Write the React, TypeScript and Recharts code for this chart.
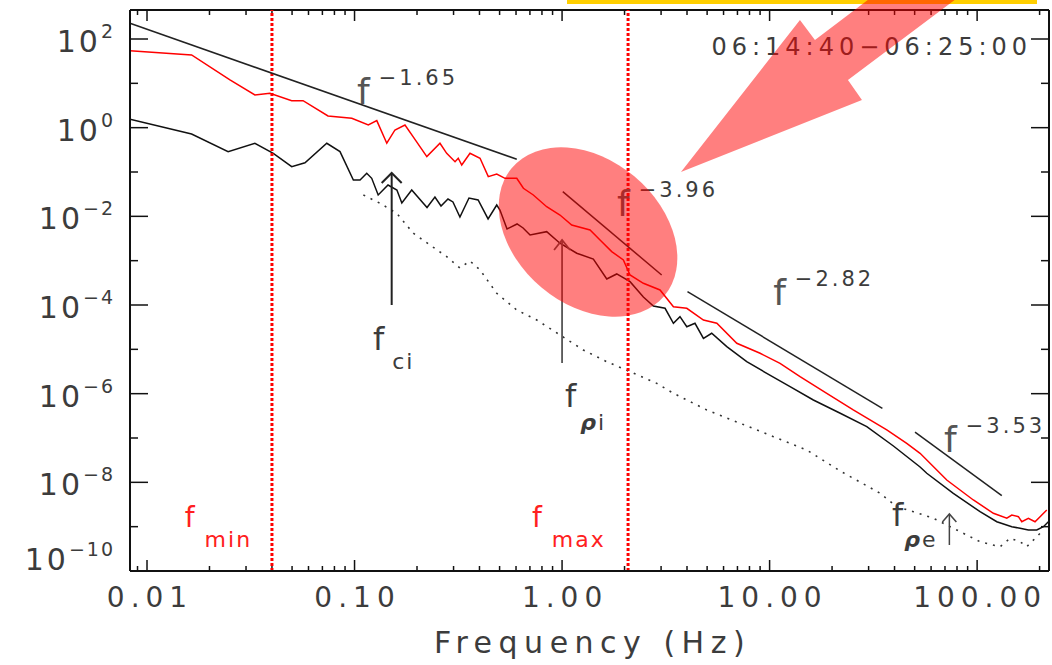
import React from "react";
import { LineChart, Line, XAxis, YAxis, ReferenceLine, ReferenceDot } from "recharts";

// spectra: frequency in Hz, power spectral density
const redFreq = [
  0.00828, 0.0164, 0.0251, 0.0331, 0.0391, 0.0498, 0.0565, 0.0745, 0.097, 0.1165, 0.128, 0.143,
  0.1566, 0.175, 0.1914, 0.223, 0.258, 0.278, 0.305, 0.316, 0.3285, 0.36, 0.4025, 0.441, 0.4844,
  0.531, 0.605, 0.651, 0.727, 0.843, 0.977, 1.113, 1.364, 1.524, 1.735, 1.974, 2.126, 2.465, 2.965,
  3.44, 3.99, 4.8, 5.57, 6.95, 9.0, 11.23, 14.02, 18.86, 25.3, 36.7, 45.8, 53.1, 71.4, 95.9, 119.8,
  139, 146.9, 158.1, 164.1, 176.6, 190.1, 201.1, 216.6,
];
const redPsd = [
  54.6, 43.6, 11.9, 5.47, 5.97, 4.06, 4.06, 1.84, 1.63, 1.15, 1.44, 0.445, 0.887, 1.15, 0.627, 0.222,
  0.445, 0.264, 0.171, 0.204, 0.144, 0.264, 0.204, 0.0785, 0.0903, 0.0721, 0.0721, 0.043, 0.0303,
  0.0165, 0.0107, 0.00638, 0.00492, 0.00293, 0.0016, 0.00104, 4.75e-4, 3.09e-4, 2.18e-4, 9.16e-5,
  8.43e-5, 4.59e-5, 3.87e-5, 1.37e-5, 8.15e-6, 4.84e-6, 2.42e-6, 1.02e-6, 4.29e-7, 1.52e-7, 7.6e-8,
  4.52e-8, 1.13e-8, 4.0e-9, 2.0e-9, 1.55e-9, 1.83e-9, 1.68e-9, 1.29e-9, 1.55e-9, 1.29e-9, 1.68e-9,
  2.38e-9,
];

const blackFreq = [
  0.00828, 0.0164, 0.0246, 0.0331, 0.0406, 0.0498, 0.0577, 0.0735, 0.0851, 0.0987, 0.1063, 0.1145,
  0.121, 0.13, 0.145, 0.16, 0.169, 0.1886, 0.2235, 0.244, 0.261, 0.282, 0.298, 0.322, 0.356, 0.394,
  0.44, 0.4844, 0.502, 0.543, 0.607, 0.649, 0.701, 0.843, 0.977, 1.177, 1.415, 1.642, 1.834, 2.126,
  2.465, 2.754, 3.135, 3.44, 3.7, 3.99, 4.37, 4.8, 5.26, 6.22, 7.76, 9.69, 12.55, 16.25, 21.9, 29.4,
  39.5, 53.1, 57.2, 76.8, 103.3, 124.4, 146.9, 161.1, 176.6, 193.9, 208.6, 220.5,
];
const blackPsd = [
  1.55, 0.721, 0.288, 0.445, 0.264, 0.132, 0.162, 0.445, 0.288, 0.0661, 0.0661, 0.0935, 0.0721,
  0.0303, 0.0509, 0.0393, 0.02, 0.0393, 0.0158, 0.0273, 0.0171, 0.0246, 0.0211, 0.00967, 0.0259,
  0.0234, 0.00872, 0.018, 0.0139, 0.00519, 0.00673, 0.00546, 0.0038, 0.00451, 0.00247, 0.00147,
  0.00109, 3.86e-4, 5.01e-4, 3.36e-4, 1.52e-4, 9.5e-5, 8.43e-5, 3.87e-5, 5.45e-5, 3.24e-5, 3.87e-5,
  1.77e-5, 2.3e-5, 1.15e-5, 5.26e-6, 2.88e-6, 1.44e-6, 7.19e-7, 3.61e-7, 1.8e-7, 6.6e-8, 2.22e-8,
  1.6e-8, 5.66e-9, 2.18e-9, 1.29e-9, 9.98e-10, 9.2e-10, 8.41e-10, 8.41e-10, 9.98e-10, 1.29e-9,
];

const noiseFreq = [
  0.1103, 0.1327, 0.1597, 0.192, 0.231, 0.278, 0.322, 0.36, 0.4025, 0.4844, 0.605, 0.755, 0.977,
  1.266, 1.642, 2.126, 2.86, 3.44, 4.98, 7.21, 10.43, 15.1, 21.9, 34.1, 41.0, 49.3, 61.5, 79.8,
  103.3, 129, 144.1, 161.1, 173.5, 201.1,
];
const noisePsd = [
  0.0303, 0.0197, 0.0117, 0.00415, 0.00226, 0.00123, 6.84e-4, 9.84e-4, 6.17e-4, 1.84e-4, 7.72e-5,
  4.59e-5, 2.11e-5, 9.66e-6, 5.26e-6, 3.13e-6, 1.71e-6, 1.02e-6, 4.29e-7, 2.15e-7, 1.07e-7, 5.36e-8,
  1.8e-8, 5.66e-9, 2.82e-9, 2.18e-9, 1.55e-9, 8.41e-10, 4.58e-10, 3.53e-10, 5.47e-10, 4.58e-10,
  3.53e-10, 7.08e-10,
];

// power-law fits: start (f, P) -> end (f, P)
const fitStart = [[0.00828, 226], [1.008, 0.036], [4.02, 2.0e-4], [50.2, 1.35e-7]];
const fitEnd = [[0.605, 0.194], [3.02, 4.75e-4], [34.95, 4.68e-7], [131.5, 4.99e-9]];
const fitExponents = ["−1.65", "−3.96", "−2.82", "−3.53"];
const fitLabelAt = [[0.1028, 3.43], [1.84, 0.0102], [10.4, 1.0e-4], [69.3, 4.83e-8]];

// characteristic frequencies, arrow from (f, Pbase) up to (f, Ptip)
const markerNames = ["ci", "ρi", "ρe"];
const markerFreq = [0.151, 1.0, 73.5];
const markerBase = [1.0e-4, 4.92e-6, 3.86e-10];
const markerTip = [0.095, 0.00293, 1.93e-9];
const markerLabelAt = [[0.1227, 9.66e-6], [1.033, 5.0e-7], [38.9, 1.04e-9]];

const fMin = 0.04;
const fMax = 2.08;

const xDomain = [0.00828, 222];
const yDomain = [1e-10, 451];
const xDecades = [0.01, 0.1, 1, 10, 100];
const xTickLabels = ["0.01", "0.10", "1.00", "10.00", "100.00"];
const yExponents = [-10, -9, -8, -7, -6, -5, -4, -3, -2, -1, 0, 1, 2];

const lg = Math.log10;
const FONT = "'DejaVu Sans', sans-serif";
const INK = "#3c3c3c";
const AXIS = "#111";
const HIGHLIGHT = "rgba(255,0,0,0.5)";

const W = 1052;
const H = 665;
const MARGIN = { top: 10, right: 3, bottom: 0, left: 0 };
const Y_AXIS_W = 130;
const X_AXIS_H = 94;

const pts = (fs: number[], ps: number[]) => fs.map((f, i) => ({ x: lg(f), y: lg(ps[i]) }));

const xMin = lg(xDomain[0]);
const xMax = lg(xDomain[1]);
const yMin = lg(yDomain[0]);
const yMax = lg(yDomain[1]);
// data units per screen pixel, used for the inward tick marks
const xPerPx = (xMax - xMin) / (W - MARGIN.left - MARGIN.right - Y_AXIS_W);
const yPerPx = (yMax - yMin) / (H - MARGIN.top - MARGIN.bottom - X_AXIS_H);

const xMajor = xDecades.map(lg);
const xMinor: number[] = [];
[0.001, ...xDecades].forEach((d) => {
  for (let k = 2; k <= 9; k++) {
    const v = lg(d * k);
    if (v > xMin && v < xMax) xMinor.push(v);
  }
});
const xTicks = [...xMajor, ...xMinor].sort((a, b) => a - b);
const majorIndex = (v: number) => xMajor.findIndex((m) => Math.abs(m - v) < 1e-9);

const expText = (v: number) => (v < 0 ? "−" + Math.abs(v) : String(v));

function BottomTick({ x, y, payload }: any) {
  const i = majorIndex(payload.value);
  if (i < 0) return <g />;
  return (
    <text x={x + 3} y={y + 36} textAnchor="middle" fontSize={28} letterSpacing={6} fill={INK} fontFamily={FONT}>
      {xTickLabels[i]}
    </text>
  );
}

function LeftTick({ x, y, payload }: any) {
  const v = Math.round(payload.value);
  if (v % 2 !== 0) return <g />;
  return (
    <text x={x - 15} y={y + (v === yExponents[0] ? -1 : 13)} textAnchor="end" fill={INK} fontFamily={FONT}>
      <tspan fontSize={30} letterSpacing={3}>10</tspan>
      <tspan fontSize={19} dy={-14} letterSpacing={2}>{expText(v)}</tspan>
    </text>
  );
}

const powerLabel = (exp: string) => (p: any) => (
  <text x={p.cx} y={p.cy} fill={INK} fontFamily={FONT}>
    <tspan fontSize={36} fill="#555">f</tspan>
    <tspan fontSize={21} dx={9} dy={-19} letterSpacing={3}>{exp}</tspan>
  </text>
);

const subLabel = (sub: string, color: string, fSize: number, dx: number, dy: number) => (p: any) => (
  <text x={p.cx} y={p.cy} fill={color} fontFamily={FONT}>
    <tspan fontSize={fSize}>f</tspan>
    <tspan fontSize={22} dx={dx} dy={dy} letterSpacing={2}>
      {sub.startsWith("ρ") ? (
        <>
          <tspan fontStyle="italic" fontWeight="bold">ρ</tspan>
          {sub.slice(1)}
        </>
      ) : (
        sub
      )}
    </tspan>
  </text>
);

const chevron = (w: number, h: number, color: string, sw: number) => (p: any) => (
  <path d={`M${p.cx - w},${p.cy + h} L${p.cx},${p.cy} L${p.cx + w},${p.cy + h}`} fill="none" stroke={color} strokeWidth={sw} />
);

const markerStyle = [
  { color: "#222", sw: 2, w: 10, h: 10, dx: 8, dy: 19 },
  { color: "#555", sw: 1.8, w: 8, h: 10, dx: 4, dy: 23 },
  { color: "#444", sw: 1.5, w: 7, h: 8, dx: 1, dy: 21 },
];

export default function App() {
  const red = pts(redFreq, redPsd);
  const black = pts(blackFreq, blackPsd);
  const noise = pts(noiseFreq, noisePsd);
  const axisLine = { stroke: AXIS, strokeWidth: 2 };
  const xd: [number, number] = [xMin, xMax];
  const yd: [number, number] = [yMin, yMax];

  // inward tick marks on all four sides of the frame
  const tickMarks: React.ReactNode[] = [];
  xTicks.forEach((v, i) => {
    const len = (majorIndex(v) >= 0 ? 11 : 5) * yPerPx;
    tickMarks.push(
      <ReferenceLine key={"xb" + i} segment={[{ x: v, y: yMin }, { x: v, y: yMin + len }]} stroke={AXIS} strokeWidth={1.5} />,
      <ReferenceLine key={"xt" + i} segment={[{ x: v, y: yMax }, { x: v, y: yMax - len }]} stroke={AXIS} strokeWidth={1.5} />
    );
  });
  yExponents.forEach((v, i) => {
    const len = (v % 2 === 0 ? 18 : 8) * xPerPx;
    tickMarks.push(
      <ReferenceLine key={"yl" + i} segment={[{ x: xMin, y: v }, { x: xMin + len, y: v }]} stroke={AXIS} strokeWidth={1.5} />,
      <ReferenceLine key={"yr" + i} segment={[{ x: xMax, y: v }, { x: xMax - len, y: v }]} stroke={AXIS} strokeWidth={1.5} />
    );
  });

  return (
    <div style={{ position: "absolute", left: 0, top: 0, width: W, height: H, background: "#fff" }}>
      <div style={{ position: "absolute", left: 567, top: 0, width: 470, height: 4, background: "#FFCF00" }} />
      <div style={{ position: "absolute", left: 0, top: 0 }}>
        <LineChart width={W} height={H} margin={MARGIN}>
          <XAxis
            type="number"
            dataKey="x"
            domain={xd}
            allowDataOverflow
            ticks={xTicks}
            interval={0}
            tickSize={0}
            tickMargin={0}
            tickLine={false}
            axisLine={axisLine}
            tick={(p: any) => <BottomTick {...p} />}
            height={X_AXIS_H}
            label={{
              content: (p: any) => (
                <text
                  x={p.viewBox.x + p.viewBox.width / 2 + 3}
                  y={p.viewBox.y + 82}
                  textAnchor="middle"
                  fontSize={30}
                  letterSpacing={6.5}
                  fill={INK}
                  fontFamily={FONT}
                >
                  Frequency (Hz)
                </text>
              ),
            }}
          />
          <YAxis
            type="number"
            domain={yd}
            allowDataOverflow
            ticks={yExponents}
            interval={0}
            tickSize={0}
            tickMargin={0}
            tickLine={false}
            axisLine={axisLine}
            tick={(p: any) => <LeftTick {...p} />}
            width={Y_AXIS_W}
          />

          {/* top and right edges of the frame */}
          <ReferenceLine y={yMax} stroke={AXIS} strokeWidth={2} />
          <ReferenceLine x={xMax} stroke={AXIS} strokeWidth={2} />
          {tickMarks}

          <Line data={noise} dataKey="y" type="linear" stroke="#333" strokeWidth={1.6} strokeDasharray="2 6" dot={false} isAnimationActive={false} />
          <Line data={black} dataKey="y" type="linear" stroke="#111" strokeWidth={1.5} dot={false} isAnimationActive={false} />
          <Line data={red} dataKey="y" type="linear" stroke="#ff0000" strokeWidth={1.5} dot={false} isAnimationActive={false} />

          <ReferenceLine x={lg(fMin)} stroke="#ff0000" strokeWidth={3} strokeDasharray="3 2" />
          <ReferenceLine x={lg(fMax)} stroke="#ff0000" strokeWidth={3} strokeDasharray="3 2" />

          {fitStart.map((s, i) => (
            <ReferenceLine
              key={"fit" + i}
              ifOverflow="visible"
              segment={[
                { x: lg(s[0]), y: lg(s[1]) },
                { x: lg(fitEnd[i][0]), y: lg(fitEnd[i][1]) },
              ]}
              stroke="#222"
              strokeWidth={1.5}
            />
          ))}
          {fitLabelAt.map((a, i) => (
            <ReferenceDot key={"fl" + i} x={lg(a[0])} y={lg(a[1])} r={1} shape={powerLabel(fitExponents[i])} />
          ))}

          {markerFreq.map((f, i) => (
            <ReferenceLine
              key={"ms" + i}
              segment={[
                { x: lg(f), y: lg(markerBase[i]) },
                { x: lg(f), y: lg(markerTip[i]) },
              ]}
              stroke={markerStyle[i].color}
              strokeWidth={markerStyle[i].sw}
            />
          ))}
          {markerFreq.map((f, i) => (
            <ReferenceDot
              key={"mh" + i}
              x={lg(f)}
              y={lg(markerTip[i])}
              r={1}
              shape={chevron(markerStyle[i].w, markerStyle[i].h, markerStyle[i].color, markerStyle[i].sw)}
            />
          ))}
          {markerLabelAt.map((a, i) => (
            <ReferenceDot
              key={"ml" + i}
              x={lg(a[0])}
              y={lg(a[1])}
              r={1}
              shape={subLabel(markerNames[i], INK, 32, markerStyle[i].dx, markerStyle[i].dy)}
            />
          ))}

          <ReferenceDot x={lg(0.0152)} y={lg(9.8e-10)} r={1} shape={subLabel("min", "#ff2020", 28, 10, 20)} />
          <ReferenceDot x={lg(0.716)} y={lg(9.8e-10)} r={1} shape={subLabel("max", "#ff2020", 28, 10, 20)} />

          <ReferenceDot
            x={lg(184)}
            y={lg(43.6)}
            r={1}
            shape={(p: any) => (
              <text x={p.cx} y={p.cy} textAnchor="end" fontSize={24} letterSpacing={5} fill={INK} fontFamily={FONT}>
                06:14:40−06:25:00
              </text>
            )}
          />

          {/* highlight ellipse around the ion-scale break and the pointer arrow */}
          <ReferenceDot
            x={lg(1.334)}
            y={lg(0.00443)}
            r={1}
            shape={(p: any) => (
              <ellipse cx={p.cx} cy={p.cy} rx={99.5} ry={72.4} transform={`rotate(40 ${p.cx} ${p.cy})`} fill={HIGHLIGHT} />
            )}
          />
          <ReferenceDot
            x={lg(3.74)}
            y={lg(0.1)}
            r={1}
            shape={(p: any) => {
              const o = [[0, 0], [119, -152], [134, -132], [200, -182], [287, -182], [167, -92], [181, -72]];
              return <polygon points={o.map(([dx, dy]) => `${p.cx + dx},${p.cy + dy}`).join(" ")} fill={HIGHLIGHT} />;
            }}
          />
        </LineChart>
      </div>
    </div>
  );
}
